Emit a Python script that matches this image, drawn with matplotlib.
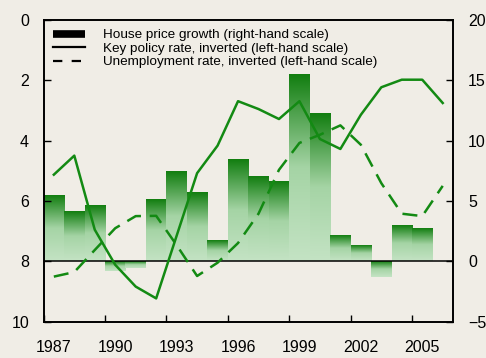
import numpy as np
import matplotlib
matplotlib.use("Agg")
import matplotlib.pyplot as plt
from matplotlib.colors import LinearSegmentedColormap
from matplotlib.lines import Line2D

plt.rcParams['font.family'] = ['Liberation Sans', 'DejaVu Sans']

# annual house price growth, per cent (right-hand scale)
bar_years = list(range(1987, 2006))
house_price = [5.4, 4.1, 4.6, -0.8, -0.5, 5.1, 7.4, 5.7, 1.7, 8.4,
               7.0, 6.6, 15.4, 12.2, 2.1, 1.3, -1.3, 2.9, 2.7]

# key policy rate and unemployment rate, per cent (left-hand scale, inverted)
line_years = [y + 0.5 for y in range(1987, 2007)]
policy_rate = [5.13, 4.50, 6.95, 8.11, 8.83, 9.22, 7.15, 5.08, 4.17, 2.70,
               2.96, 3.29, 2.70, 3.95, 4.28, 3.15, 2.24, 1.99, 1.99, 2.76]
unemployment = [8.50, 8.35, 7.62, 6.90, 6.50, 6.49, 7.46, 8.48, 8.04, 7.39,
                6.42, 4.97, 4.08, 3.81, 3.50, 4.14, 5.41, 6.42, 6.50, 5.50]

tick_years = list(range(1987, 2006, 3))
labels = [str(y) for y in tick_years]

bg = '#f0ede6'
green = '#138a13'
grad_cmap = LinearSegmentedColormap.from_list('bars', ['#c4e3c4', '#a5d4a5', '#127e10'])

fig, ax = plt.subplots(figsize=(4.86, 3.58), dpi=100)
fig.patch.set_facecolor(bg)
fig.subplots_adjust(left=0.0897, right=0.932, bottom=0.1006, top=0.9455)
ax2 = ax.twinx()

# bars on the right-hand axis, filled with a vertical gradient
bars = ax2.bar(bar_years, house_price, width=1.0, align='edge',
               color='none', edgecolor='none')
grad = np.linspace(0, 1, 256).reshape(-1, 1)
for rect in bars:
    x0 = rect.get_x()
    y0 = rect.get_y()
    h = rect.get_height()
    lo, hi = min(y0, y0 + h), max(y0, y0 + h)
    ax2.imshow(grad, extent=[x0, x0 + rect.get_width(), lo, hi],
               origin='lower', cmap=grad_cmap, aspect='auto', zorder=1)
ax2.axhline(0, color='black', lw=1.1, zorder=3)
ax2.set_ylim(-5, 20)
ax2.set_yticks([-5, 0, 5, 10, 15, 20])

# lines on the left-hand axis, drawn above the bars
ax.set_zorder(ax2.get_zorder() + 1)
ax.patch.set_visible(False)
ax.plot(line_years, policy_rate, color=green, lw=1.8)
ax.plot(line_years, unemployment, color=green, lw=1.8, ls=(0, (6, 3.5)))
ax.set_ylim(10, 0)
ax.set_yticks([0, 2, 4, 6, 8, 10])
ax.set_xlim(1987, 2007)

ax.set_xticks(tick_years)
ax.set_xticklabels([])
ax.set_xticks([y + 0.5 for y in tick_years], labels, minor=True)
ax.tick_params(axis='x', which='major', direction='in', length=5, width=1)
ax.tick_params(axis='x', which='minor', length=0, pad=13, labelsize=11.5)
ax.tick_params(axis='y', direction='in', length=5, width=1, pad=10.5, labelsize=11.5)
ax2.tick_params(axis='y', direction='in', length=5, width=1, pad=11, labelsize=11.5)

for a in (ax, ax2):
    for s in a.spines.values():
        s.set_linewidth(1.2)

handles = [
    Line2D([], [], color='black', lw=5.5, solid_capstyle='butt'),
    Line2D([], [], color='black', lw=1.6),
    Line2D([], [], color='black', lw=1.6, ls=(0, (4.2, 4.2))),
]
names = ['House price growth (right-hand scale)',
         'Key policy rate, inverted (left-hand scale)',
         'Unemployment rate, inverted (left-hand scale)']
ax.legend(handles, names, loc='upper left', frameon=False, fontsize=9.7,
          handlelength=2.37, handletextpad=1.33, labelspacing=0.08,
          borderaxespad=0.3, borderpad=0.4)

fig.savefig('out.png', dpi=100, facecolor=bg)
